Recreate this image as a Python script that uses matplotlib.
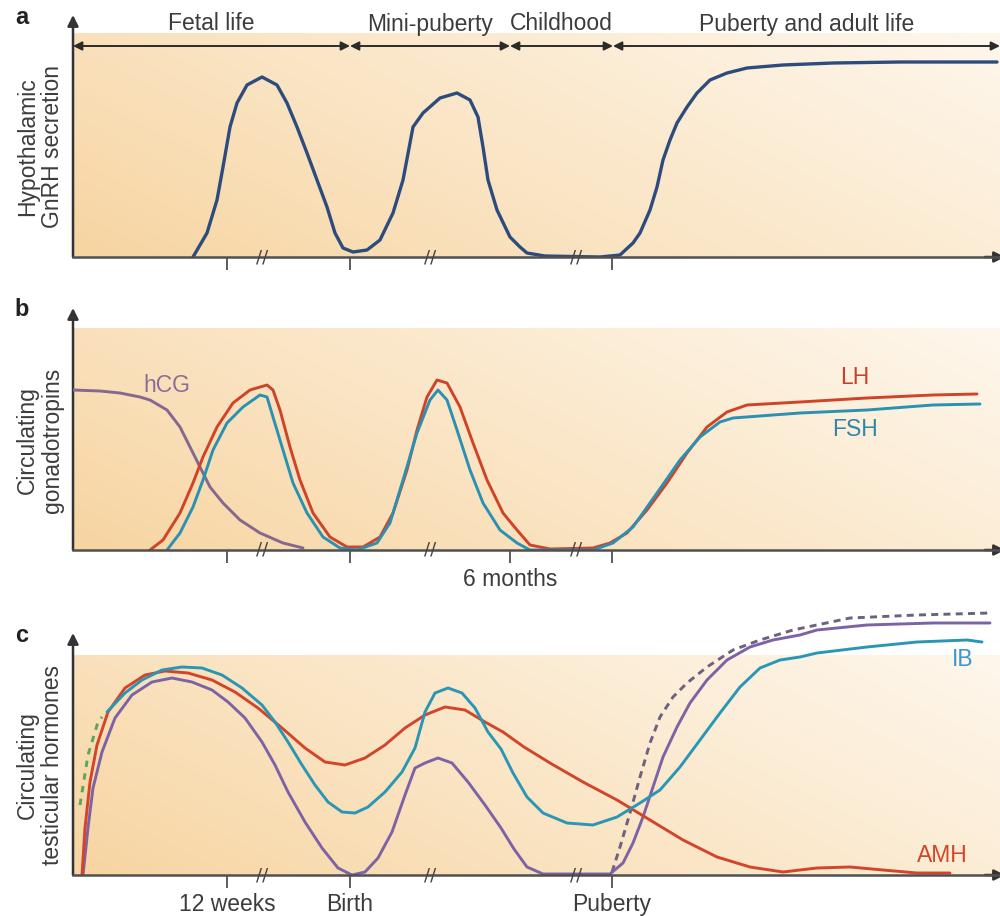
import numpy as np
import matplotlib.pyplot as plt

plt.rcParams['font.family'] = ['Liberation Sans', 'DejaVu Sans']

# x = position along the (schematic) time axis, in picture pixels
# y = height of the curve above the panel baseline, in picture pixels

# panel a: hypothalamic GnRH secretion
gnrh_x = [193, 207, 217, 223, 230, 237, 247, 262, 277, 287, 297, 307, 317, 327, 335, 343, 353, 367,
          380, 393, 403, 410, 413, 423, 440, 457, 470, 478, 483, 488, 497, 510, 520, 527, 545, 600,
          620, 633, 640, 650, 657, 663, 670, 677, 687, 697, 710, 727, 747, 783, 833, 900, 997]
gnrh_y = [0, 24, 57, 90, 130, 154, 172, 180, 172, 154, 130, 104, 77, 50, 24, 9, 5, 7,
          17, 44, 77, 114, 130, 144, 159, 164, 157, 140, 110, 77, 47, 20, 10, 4, 1, 0,
          2, 14, 24, 47, 70, 97, 117, 134, 150, 164, 177, 184, 189, 192, 194, 195, 195]

# panel b: circulating gonadotropins
hcg_x = [73, 100, 120, 140, 150, 167, 180, 190, 200, 210, 223, 240, 260, 283, 303]
hcg_y = [160, 159, 157, 153, 150, 140, 123, 103, 83, 63, 47, 30, 17, 7, 2]

lh_x = [150, 163, 180, 193, 203, 217, 233, 250, 267, 273, 280, 290, 300, 313, 330, 347, 363, 380,
        393, 407, 417, 427, 437, 447, 460, 473, 487, 503, 517, 530, 550, 593, 610, 627, 647, 667,
        687, 707, 727, 747, 800, 867, 933, 977]
lh_y = [0, 10, 37, 67, 93, 123, 147, 160, 165, 160, 140, 103, 70, 37, 13, 3, 3, 13,
        37, 80, 120, 153, 170, 167, 143, 107, 70, 37, 20, 5, 1, 2, 7, 17, 40, 67,
        97, 123, 138, 145, 148, 152, 155, 156]

fsh_x = [167, 180, 193, 203, 213, 227, 243, 260, 267, 273, 283, 293, 307, 323, 340, 357, 377, 390,
         403, 417, 430, 438, 447, 457, 470, 483, 500, 517, 530, 593, 613, 633, 657, 680, 700, 720,
         733, 800, 867, 933, 980]
fsh_y = [0, 17, 43, 70, 100, 127, 143, 155, 153, 133, 100, 67, 37, 13, 2, 0, 7, 27,
         70, 117, 150, 160, 150, 120, 80, 47, 20, 7, 0, 0, 7, 23, 57, 90, 113, 128,
         132, 137, 140, 145, 146]

# panel c: circulating testicular hormones
early_x = [80, 88, 98, 102]
early_y = [70, 120, 153, 158]

ib_x = [107, 125, 142, 162, 182, 202, 222, 242, 262, 275, 288, 302, 315, 328, 342, 355, 368, 385,
        402, 415, 425, 435, 448, 462, 475, 488, 501, 513, 527, 543, 567, 593, 617, 640, 660, 680,
        700, 720, 740, 760, 780, 800, 817, 867, 917, 967, 982]
ib_y = [163, 182, 195, 205, 208, 207, 200, 187, 170, 153, 133, 110, 90, 73, 63, 62, 68, 83,
        103, 127, 163, 182, 187, 182, 167, 143, 126, 102, 78, 62, 52, 50, 58, 72, 85, 108,
        135, 162, 188, 207, 215, 218, 222, 228, 233, 235, 233]

amh_x = [82, 85, 90, 97, 108, 125, 145, 165, 188, 212, 235, 258, 282, 305, 325, 345, 365, 385,
         405, 425, 445, 465, 485, 503, 524, 550, 583, 617, 650, 683, 717, 750, 783, 817, 850, 883,
         917, 950]
amh_y = [0, 47, 93, 130, 163, 187, 200, 204, 202, 195, 183, 167, 147, 127, 113, 110, 117, 130,
         147, 160, 168, 165, 153, 143, 128, 112, 93, 75, 55, 35, 18, 8, 3, 7, 8, 5,
         2, 2]

testo_x = [83, 88, 93, 102, 115, 132, 152, 172, 192, 212, 228, 245, 262, 275, 288, 305, 322, 338,
           352, 365, 378, 392, 405, 415, 425, 438, 452, 468, 485, 501, 514, 527, 543, 610, 623,
           633, 643, 653, 663, 677, 690, 707, 727, 750, 773, 800, 817, 867, 933, 990]
testo_y = [0, 47, 87, 123, 157, 180, 193, 197, 193, 185, 173, 157, 133, 110, 83, 53, 27, 7,
           0, 3, 17, 43, 80, 107, 112, 117, 112, 93, 70, 47, 26, 8, 1, 1, 12,
           32, 58, 88, 118, 148, 172, 195, 215, 228, 235, 240, 245, 250, 252, 252]

testo2_x = [612, 620, 630, 640, 650, 660, 673, 687, 707, 733, 760, 793, 850, 917, 990]
testo2_y = [3, 28, 62, 98, 132, 158, 178, 192, 208, 225, 235, 245, 257, 260, 262]

# axis annotations
phases = ['Fetal life', 'Mini-puberty', 'Childhood', 'Puberty and adult life']
phase_edges = [73, 350, 510, 613, 1000]
ticks_a = [227, 350, 612]
ticks_b = [227, 350, 510, 612]
ticklabels_b = ['', '', '6 months', '']
ticks_c = [227, 350, 612]
ticklabels_c = ['12 weeks', 'Birth', 'Puberty']
breaks = [262, 430, 576]

W, H = 1000, 916
fig = plt.figure(figsize=(10, 9.16), dpi=100)
fig.patch.set_facecolor('white')

AX_COL = '#505050'
TXT = '#3c3c3c'
FS = 16.5
TOP = 242

# peach background gradient
u = np.linspace(0, 1, 300)[None, :]
v = np.linspace(0, 1, 80)[:, None]
t = np.clip(0.68 * u + 0.32 * v, 0, 1) ** 0.9
c0 = np.array([247, 212, 160]) / 255
c1 = np.array([254, 247, 236]) / 255
grad = c0[None, None, :] * (1 - t[..., None]) + c1[None, None, :] * t[..., None]


def make_panel(baseline, letter, ylab, ticks, ticklabels, bg_top):
    ax = fig.add_axes([73 / W, (H - baseline) / H, (W - 73) / W, TOP / H])
    ax.patch.set_alpha(0)
    ax.imshow(grad, extent=(73, 1000, 0, bg_top), origin='lower', aspect='auto', zorder=0)
    ax.set_xlim(73, 1000)
    ax.set_ylim(0, TOP)
    for s in ['top', 'right', 'left']:
        ax.spines[s].set_visible(False)
    ax.spines['bottom'].set_color(AX_COL)
    ax.spines['bottom'].set_linewidth(1.8)
    ax.spines['bottom'].set_zorder(5)
    ax.set_yticks([])
    ax.set_xticks(ticks)
    ax.set_xticklabels(ticklabels)
    ax.tick_params(axis='x', direction='out', length=9, width=1.3, color=AX_COL,
                   labelsize=FS, labelcolor=TXT, pad=4)
    # y axis arrow
    ax.annotate('', xy=(73, TOP), xytext=(73, 0), annotation_clip=False,
                arrowprops=dict(arrowstyle='-|>', color='#333333', lw=1.8,
                                mutation_scale=16, shrinkA=0, shrinkB=0))
    # x axis arrow head at the right edge
    ax.annotate('', xy=(1005, 0), xytext=(985, 0), annotation_clip=False,
                arrowprops=dict(arrowstyle='-|>', color='#333333', lw=1.8,
                                mutation_scale=16, shrinkA=0, shrinkB=0))
    for b in breaks:
        ax.text(b, 0, '//', ha='center', va='center', fontsize=13, color='#444444',
                family='DejaVu Sans', zorder=6)
    fig.text(22 / W, (H - (baseline - 240)) / H, letter, fontsize=17, fontweight='bold',
             color='#222222', ha='center', va='center')
    fig.text(40 / W, (H - (baseline - 110)) / H, ylab, rotation=90, ha='center', va='center',
             fontsize=FS, color=TXT, linespacing=1.08, multialignment='center')
    return ax


LW = 2.1
line_kw = dict(solid_joinstyle='round', solid_capstyle='round')

# panel a
ax_a = make_panel(257, 'a', 'Hypothalamic\nGnRH secretion', ticks_a, ['', '', ''], 224)
ax_a.plot(gnrh_x, gnrh_y, color='#2d4c7e', lw=LW + 0.3, zorder=3, **line_kw)
for i, name in enumerate(phases):
    ax_a.annotate('', xy=(phase_edges[i + 1], 211), xytext=(phase_edges[i], 211),
                  annotation_clip=False,
                  arrowprops=dict(arrowstyle='<|-|>', color='#2b2b2b', lw=1.4,
                                  mutation_scale=13, shrinkA=0, shrinkB=0))
    ax_a.text((phase_edges[i] + phase_edges[i + 1]) / 2, 233, name, ha='center', va='center',
              fontsize=FS, color=TXT, clip_on=False)

# panel b
ax_b = make_panel(550, 'b', 'Circulating\ngonadotropins', ticks_b, ticklabels_b, 222)
ax_b.plot(hcg_x, hcg_y, color='#85688f', lw=LW, zorder=3, **line_kw)
ax_b.plot(lh_x, lh_y, color='#cf4328', lw=LW, zorder=3, **line_kw)
ax_b.plot(fsh_x, fsh_y, color='#2a91b3', lw=LW, zorder=3, **line_kw)
ax_b.text(167, 165, 'hCG', color='#8a6e98', fontsize=FS, ha='center', va='center')
ax_b.text(855, 172, 'LH', color='#c8402a', fontsize=FS, ha='center', va='center')
ax_b.text(855, 120, 'FSH', color='#2f86ad', fontsize=FS, ha='center', va='center')

# panel c
ax_c = make_panel(875, 'c', 'Circulating\ntesticular hormones', ticks_c, ticklabels_c, 220)
ax_c.plot(early_x, early_y, color='#5ea45c', lw=LW, ls=(0, (2.2, 2.2)), zorder=3)
ax_c.plot(testo2_x, testo2_y, color='#6b6180', lw=LW, ls=(0, (2.4, 1.8)), zorder=3,
          clip_on=False)
ax_c.plot(testo_x, testo_y, color='#7d63a6', lw=LW, zorder=3, clip_on=False, **line_kw)
ax_c.plot(amh_x, amh_y, color='#d2452a', lw=LW, zorder=3, **line_kw)
ax_c.plot(ib_x, ib_y, color='#2a96b6', lw=LW, zorder=4, **line_kw)
ax_c.text(963, 215, 'IB', color='#3a96cc', fontsize=FS, ha='center', va='center')
ax_c.text(942, 20, 'AMH', color='#d2452a', fontsize=FS, ha='center', va='center')

fig.savefig('out.png', dpi=100, facecolor='white')
